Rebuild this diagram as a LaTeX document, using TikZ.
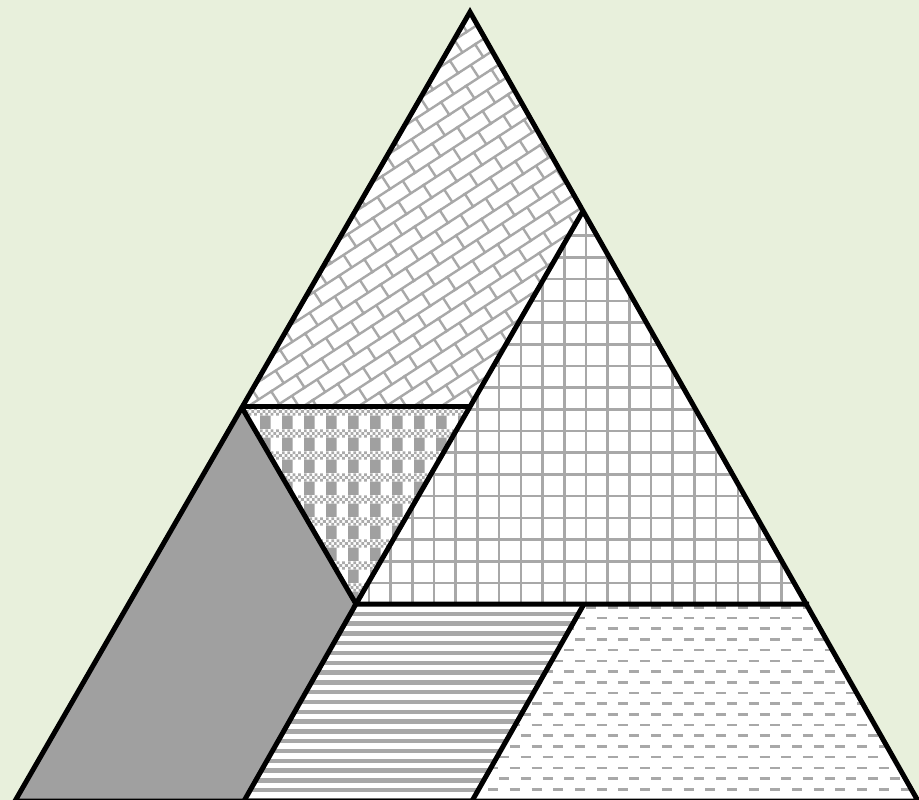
\documentclass[tikz,border=0pt]{standalone}
\usetikzlibrary{patterns.meta}

\definecolor{bgcol}{HTML}{E8F0DC}
\definecolor{blockgray}{HTML}{A0A0A0}
\definecolor{checkgray}{HTML}{ABABAB}
\definecolor{patgray}{HTML}{A8A8A8}

\tikzdeclarepattern{
  name=slantbricks,
  type=uncolored,
  bottom left={(-2pt,-2pt)},
  top right={(32pt,32pt)},
  tile size={(30pt,30pt)},
  tile transformation={rotate=33},
  code={
    \draw[line width=2.4pt] (-2pt,0pt) -- (32pt,0pt) (-2pt,15pt) -- (32pt,15pt)
      (0pt,0pt) -- (0pt,15pt) (15pt,15pt) -- (15pt,30pt);
  }
}

\tikzdeclarepattern{
  name=squaregrid,
  type=uncolored,
  bottom left={(-1.5pt,-1.5pt)},
  top right={(23.2pt,23.2pt)},
  tile size={(21.7pt,21.7pt)},
  code={
    \draw[line width=2.6pt] (-1.5pt,0pt) -- (23.2pt,0pt) (0pt,-1.5pt) -- (0pt,23.2pt);
  }
}

\tikzdeclarepattern{
  name=halftone,
  type=colored,
  bottom left={(0pt,0pt)},
  top right={(21.7pt,21.7pt)},
  tile size={(21.7pt,21.7pt)},
  code={
    \fill[blockgray] (0pt,0pt) rectangle (10.85pt,13.6pt);
    \foreach \i in {0,2,4,6}{
      \fill[checkgray] (\i*2.7125pt,13.6pt) rectangle ++(2.7125pt,2.7pt);
      \fill[checkgray] (\i*2.7125pt+2.7125pt,16.3pt) rectangle ++(2.7125pt,2.7pt);
      \fill[checkgray] (\i*2.7125pt,19pt) rectangle ++(2.7125pt,2.7pt);
    }
  }
}

\tikzdeclarepattern{
  name=flatlines,
  type=uncolored,
  bottom left={(-2pt,-3pt)},
  top right={(22pt,3pt)},
  tile size={(20pt,9.8pt)},
  code={
    \draw[line width=4.4pt] (-2pt,0pt) -- (22pt,0pt);
  }
}

\tikzdeclarepattern{
  name=staggerdash,
  type=uncolored,
  bottom left={(-1pt,-1.5pt)},
  top right={(22.7pt,12.2pt)},
  tile size={(21.7pt,21.4pt)},
  code={
    \draw[line width=2.6pt] (0pt,0pt) -- (10pt,0pt) (10.85pt,10.7pt) -- (20.85pt,10.7pt);
  }
}

\tikzset{
  piece/.style={preaction={fill=white}},
  edge/.style={line width=5pt,line join=miter}
}

\begin{document}
\begin{tikzpicture}[x=1pt,y=-1pt]
  \fill[bgcol] (0,0) rectangle (919,800);
  \useasboundingbox (0,0) rectangle (919,800);

  \coordinate (A) at (470,12);
  \coordinate (R1) at (583,211);
  \coordinate (L2) at (241,406);
  \coordinate (M2) at (470,406);
  \coordinate (M3a) at (356,604);
  \coordinate (M3b) at (584,604);
  \coordinate (R3) at (809,604);
  \coordinate (BL) at (15,801);
  \coordinate (B1) at (244,801);
  \coordinate (B2) at (472,801);
  \coordinate (BR) at (918,801);

  \path[piece,pattern=slantbricks,pattern color=patgray] (A) -- (R1) -- (M2) -- (L2) -- cycle;
  \path[piece,pattern=squaregrid,pattern color=patgray] (R1) -- (R3) -- (M3a) -- cycle;
  \path[piece,pattern=halftone] (L2) -- (M2) -- (M3a) -- cycle;
  \fill[blockgray] (L2) -- (M3a) -- (B1) -- (BL) -- cycle;
  \path[piece,pattern=flatlines,pattern color=patgray] (M3a) -- (M3b) -- (B2) -- (B1) -- cycle;
  \path[piece,pattern=staggerdash,pattern color=patgray] (M3b) -- (R3) -- (BR) -- (B2) -- cycle;

  \draw[edge] (A) -- (BR) -- (BL) -- cycle;
  \draw[edge] (L2) -- (M2);
  \draw[edge] (R1) -- (M3a) -- (R3);
  \draw[edge] (L2) -- (M3a) -- (B1);
  \draw[edge] (M3b) -- (B2);
\end{tikzpicture}
\end{document}
